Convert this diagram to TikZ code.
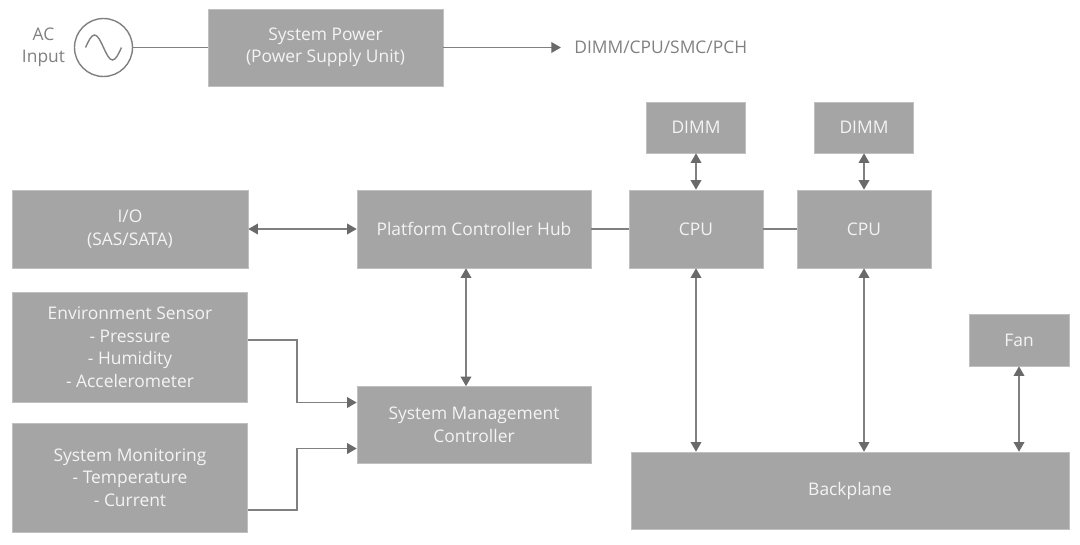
\documentclass[tikz,border=0pt]{standalone}
\usepackage{fontspec}
\setmainfont{Open Sans}
\usetikzlibrary{positioning, arrows.meta}
\definecolor{boxgray}{HTML}{A5A5A5}
\definecolor{linegray}{HTML}{808080}
\definecolor{tipgray}{HTML}{6A6A6A}
\definecolor{txtwhite}{HTML}{F4F4F4}

\begin{document}
\begin{tikzpicture}[node distance=2cm, on grid, font=\fontsize{9.9}{12.8}\selectfont,
    blk/.style={rectangle, fill=boxgray, draw=boxgray!70, line width=0.3pt, text=txtwhite, align=center, inner sep=0pt},
    wire/.style={draw=linegray, line width=1.1pt},
    arr/.style={wire, -{Triangle[length=5.5pt, width=6pt, color=tipgray]}},
    darr/.style={wire, {Triangle[length=5.5pt, width=6pt, color=tipgray]}-{Triangle[length=5.5pt, width=6pt, color=tipgray]}}]
    \useasboundingbox (0,0) rectangle (21.6,-10.88);

    % power supply row
    \node[blk, minimum width=4.7cm, minimum height=1.54cm] (psu) at (6.51,-0.95) {System Power\\(Power Supply Unit)};
    \node[circle, draw=linegray, line width=0.8pt, minimum size=1.16cm, left=4.44cm of psu] (ac) {};
    \node[text=linegray, align=center, left=1.2cm of ac] (aclbl) {AC\\Input};
    \node[text=linegray, anchor=west, inner sep=0pt] (dest) at (11.48,-0.95) {DIMM/CPU/SMC/PCH};
    \draw[linegray, line width=0.8pt] ([xshift=-3.6mm]ac.center) sin ++(1.8mm,2.5mm) cos ++(1.8mm,-2.5mm)
        sin ++(1.8mm,-2.5mm) cos ++(1.8mm,2.5mm);

    % main board
    \node[blk, minimum width=4.72cm, minimum height=1.56cm] (io) at (2.6,-4.58) {I/O\\(SAS/SATA)};
    \node[blk, minimum width=4.68cm, minimum height=1.56cm, right=6.88cm of io] (pch) {Platform Controller Hub};
    \node[blk, minimum width=2.68cm, minimum height=1.56cm, right=4.44cm of pch] (cpua) {CPU};
    \node[blk, minimum width=2.68cm, minimum height=1.56cm, right=3.36cm of cpua] (cpub) {CPU};
    \node[blk, minimum width=1.98cm, minimum height=1.02cm, above=2.03cm of cpua] (dimma) {DIMM};
    \node[blk, minimum width=1.98cm, minimum height=1.02cm, above=2.03cm of cpub] (dimmb) {DIMM};
    \node[blk, minimum width=4.7cm, minimum height=2.2cm, below=2.36cm of io] (env) {Environment Sensor\\- Pressure\\- Humidity\\- Accelerometer};
    \node[blk, minimum width=4.7cm, minimum height=2.18cm, below=2.61cm of env] (mon) {System Monitoring\\- Temperature\\- Current};
    \node[blk, minimum width=4.68cm, minimum height=1.54cm, below=3.92cm of pch] (smc) {System Management\\Controller};
    \node[blk, minimum width=8.76cm, minimum height=1.54cm] (back) at (17.0,-9.81) {Backplane};
    \node[blk, minimum width=2cm, minimum height=1.04cm] (fan) at (20.38,-6.8) {Fan};

    \draw[wire] (ac) -- (psu);
    \draw[arr, shorten >=2.6mm] (psu) -- (dest);
    \draw[darr] (io) -- (pch);
    \draw[wire] (pch) -- (cpua);
    \draw[wire] (cpua) -- (cpub);
    \draw[darr] (dimma) -- (cpua);
    \draw[darr] (dimmb) -- (cpub);
    \draw[darr] ([xshift=-1.6mm]pch.south) -- ([xshift=-1.6mm]smc.north);
    \draw[darr] (cpua.south) -- (cpua.south |- back.north);
    \draw[darr] (cpub.south) -- (cpub.south |- back.north);
    \draw[darr] (fan) -- (fan |- back.north);
    \draw[arr] ([yshift=1.4mm]env.east) -- ++(0.98,0) |- ([yshift=4.5mm]smc.west);
    \draw[arr] ([yshift=-6.5mm]mon.east) -- ++(0.98,0) |- ([yshift=-4.7mm]smc.west);
\end{tikzpicture}
\end{document}
